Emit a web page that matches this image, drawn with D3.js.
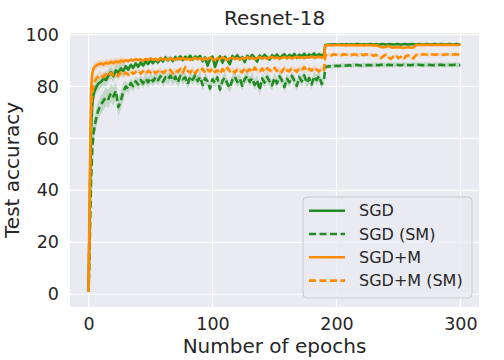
<!DOCTYPE html>
<html>
<head>
<meta charset="utf-8">
<script src="https://cdn.jsdelivr.net/npm/d3@7"></script>
<style>
  body { margin: 0; background: #fff; }
  svg { display: block; font-family: "DejaVu Sans", sans-serif; }
</style>
</head>
<body>
<svg id="chart" width="504" height="360"></svg>
<script>
// epochs at which accuracy was sampled
const epochs = [].concat(d3.range(0, 9), d3.range(10, 191, 2), [191], d3.range(192, 301, 2));

const accSGD = [
  1, 35, 63, 73, 77, 78.5, 79.5, 80.5, 81.2,
  81.8, 83.0, 82.5, 84.2, 85.5, 84.0, 86.2, 85.3, 87.0, 86.0,
  87.8, 86.5, 88.3, 87.2, 88.9, 87.6, 89.2, 88.1, 89.6, 88.7,
  90.0, 89.0, 90.4, 89.3, 90.8, 89.7, 91.2, 90.1, 91.0, 89.8,
  91.3, 90.5, 91.6, 90.2, 91.4, 90.7, 91.8, 90.4, 91.5, 90.9,
  91.7, 89.8, 91.2, 88.0, 90.6, 91.5, 87.5, 90.2, 91.6, 89.2,
  91.4, 90.3, 88.6, 91.7, 90.8, 92.0, 90.5, 91.3, 89.4, 91.8,
  90.7, 92.1, 91.0, 89.6, 91.9, 90.9, 92.2, 91.2, 90.4, 92.0,
  91.3, 92.3, 90.8, 91.7, 92.4, 91.0, 92.1, 91.5, 92.5, 91.2,
  92.2, 91.6, 92.6, 91.4, 92.3, 91.8, 92.7, 91.6, 92.4, 91.9,
  92.5,
  96.0,
  96.1, 96.2, 96.2, 96.3, 96.2, 96.2, 96.3, 96.2, 96.3, 96.2,
  96.3, 96.2, 96.3, 96.3, 96.2, 96.3, 96.2, 96.3, 96.3, 96.2,
  96.3, 96.2, 96.3, 96.3, 96.2, 96.3, 96.3, 96.2, 96.3, 96.3,
  96.2, 96.3, 96.3, 96.2, 96.3, 96.3, 96.2, 96.3, 96.3, 96.2,
  96.3, 96.3, 96.2, 96.3, 96.3, 96.2, 96.3, 96.3, 96.2, 96.3,
  96.3, 96.2, 96.3, 96.3, 96.2
];

const accSGDSM = [
  1, 22, 44, 56, 62, 65, 67.5, 69.5, 71,
  73.0, 74.5, 76.0, 75.2, 77.5, 76.2, 78.3, 72.0, 74.5, 78.0,
  80.0, 79.2, 81.3, 80.1, 82.0, 80.8, 82.5, 81.2, 83.0, 81.6,
  83.3, 82.0, 83.6, 82.4, 84.0, 81.8, 83.5, 82.7, 84.2, 82.3,
  83.8, 81.5, 84.1, 82.8, 83.5, 80.9, 83.9, 82.6, 84.3, 82.1,
  83.7, 80.5, 83.2, 82.0, 79.2, 82.8, 81.4, 83.5, 78.8, 82.2,
  83.4, 81.0, 79.5, 82.6, 83.8, 81.7, 83.0, 80.3, 82.9, 84.0,
  81.8, 83.2, 80.6, 82.5, 78.6, 83.1, 81.5, 83.7, 82.0, 80.4,
  83.3, 81.2, 83.9, 82.4, 79.8, 83.0, 81.6, 84.1, 82.2, 80.2,
  83.6, 82.0, 84.3, 81.4, 83.2, 80.8, 83.9, 82.5, 84.0, 81.0,
  82.8,
  87.5,
  87.6, 87.8, 87.7, 87.9, 88.0, 87.9, 88.1, 88.0, 88.1, 88.2,
  88.1, 88.2, 88.3, 88.2, 88.1, 88.3, 88.2, 88.3, 88.2, 88.4,
  88.3, 88.2, 88.4, 88.3, 88.2, 88.4, 88.3, 88.2, 88.4, 88.3,
  88.2, 88.4, 88.3, 88.3, 88.2, 88.4, 88.3, 88.4, 88.3, 88.2,
  88.4, 88.3, 88.3, 88.2, 88.4, 88.3, 88.4, 88.3, 88.2, 88.4,
  88.3, 88.3, 88.4, 88.2, 88.3
];

const accSGDM = [
  1, 46, 79, 85, 87, 87.6, 88, 88.3, 88.6,
  88.9, 88.4, 89.2, 88.8, 89.5, 89.0, 89.7, 89.3, 90.0, 89.5,
  90.2, 89.7, 90.4, 89.9, 90.6, 90.1, 90.5, 89.9, 90.6, 90.2,
  90.8, 90.3, 90.6, 90.1, 90.9, 90.4, 90.7, 90.2, 90.9, 90.5,
  90.3, 90.9, 90.5, 91.0, 90.4, 90.8, 90.2, 90.7, 91.0, 90.5,
  90.9, 90.3, 90.8, 90.5, 91.1, 90.6, 90.2, 90.9, 90.6, 91.2,
  90.7, 90.3, 90.9, 91.1, 90.6, 90.9, 90.4, 91.0, 90.7, 91.3,
  90.8, 91.1, 90.5, 91.0, 91.3, 90.8, 91.2, 90.7, 91.1, 91.4,
  90.9, 91.2, 90.6, 91.1, 91.4, 90.9, 91.3, 90.8, 91.2, 91.5,
  91.0, 91.3, 90.9, 91.4, 91.1, 91.6, 91.0, 91.3, 91.5, 91.2,
  91.4,
  95.8,
  95.9, 96.0, 95.8, 96.0, 95.9, 96.1, 95.9, 96.0, 95.8, 96.0,
  95.9, 96.0, 95.8, 95.9, 96.0, 95.8, 95.9, 96.0, 95.9, 95.8,
  95.9, 95.6, 95.2, 95.0, 95.3, 95.7, 95.1, 94.9, 95.2, 95.0,
  95.1, 94.8, 95.0, 95.2, 94.9, 95.0, 95.9, 96.0, 96.1, 96.0,
  96.1, 96.0, 96.1, 96.0, 96.0, 96.1, 96.0, 96.1, 96.0, 96.1,
  96.0, 96.1, 96.0, 96.0, 96.1
];

const accSGDMSM = [
  1, 40, 70, 77, 80.5, 82, 83, 83.5, 84,
  84.3, 83.6, 84.8, 84.0, 85.2, 84.4, 85.0, 84.1, 85.5, 84.6,
  85.3, 84.5, 85.8, 84.9, 85.6, 86.2, 85.0, 85.9, 84.8, 86.0,
  85.4, 86.3, 85.1, 85.8, 86.5, 85.2, 86.0, 85.5, 86.4, 85.0,
  86.2, 85.6, 86.8, 85.3, 87.5, 86.0, 85.4, 86.6, 85.1, 86.3,
  85.7, 86.9, 85.2, 86.4, 85.8, 87.0, 85.5, 86.2, 84.9, 86.7,
  85.6, 87.2, 85.9, 86.5, 85.3, 86.8, 86.0, 85.4, 87.1, 85.8,
  86.6, 85.5, 87.3, 86.1, 85.7, 86.9, 85.6, 87.0, 86.3, 85.8,
  87.2, 86.0, 86.7, 85.5, 87.4, 86.2, 85.9, 87.1, 86.4, 85.7,
  87.0, 86.3, 87.5, 85.9, 86.8, 86.1, 87.3, 86.5, 85.8, 87.0,
  86.4,
  92.0,
  92.1, 92.3, 92.0, 92.4, 92.2, 92.3, 92.1, 92.4, 92.2, 92.3,
  92.1, 92.4, 92.2, 92.0, 92.3, 92.1, 92.4, 92.2, 92.3, 91.8,
  92.2, 91.5, 90.9, 91.8, 92.3, 91.2, 90.6, 91.6, 92.1, 90.9,
  91.4, 90.4, 91.7, 92.0, 91.1, 90.8, 92.0, 92.3, 92.2, 92.4,
  92.3, 92.2, 92.4, 92.3, 92.2, 92.4, 92.3, 92.2, 92.3, 92.4,
  92.2, 92.3, 92.4, 92.3, 92.3
];

// spread of the shaded band: [warm-up (<30), before decay (<=190), after decay]
const spreadSGD = [2.5, 1.0, 0.3];
const spreadSGDSM = [3.5, 2.0, 0.9];
const spreadSGDM = [1.5, 0.6, 0.4];
const spreadSGDMSM = [1.5, 1.0, 0.7];

const seriesNames = ["SGD", "SGD (SM)", "SGD+M", "SGD+M (SM)"];
const xTicks = [0, 100, 200, 300];
const yTicks = [0, 20, 40, 60, 80, 100];

const series = [
  { name: seriesNames[0], values: accSGD, spread: spreadSGD, color: "#228B22", dashed: false },
  { name: seriesNames[1], values: accSGDSM, spread: spreadSGDSM, color: "#228B22", dashed: true },
  { name: seriesNames[2], values: accSGDM, spread: spreadSGDM, color: "#FF8C00", dashed: false },
  { name: seriesNames[3], values: accSGDMSM, spread: spreadSGDMSM, color: "#FF8C00", dashed: true }
];

const svg = d3.select("#chart");
const plot = { left: 70, right: 479, top: 33, bottom: 307 };
const textColor = "#262626";

const x = d3.scaleLinear().domain([-15, 315]).range([plot.left, plot.right]);
const y = d3.scaleLinear().domain([-4.9, 100.6]).range([plot.bottom, plot.top]);

// background
svg.append("rect")
  .attr("x", plot.left)
  .attr("y", plot.top)
  .attr("width", plot.right - plot.left)
  .attr("height", plot.bottom - plot.top)
  .attr("fill", "#EAEAF2");

// grid
svg.append("g")
  .selectAll("line")
  .data(xTicks)
  .join("line")
  .attr("x1", (d) => x(d)).attr("x2", (d) => x(d))
  .attr("y1", plot.top).attr("y2", plot.bottom)
  .attr("stroke", "#fff").attr("stroke-width", 1.2);

svg.append("g")
  .selectAll("line")
  .data(yTicks)
  .join("line")
  .attr("x1", plot.left).attr("x2", plot.right)
  .attr("y1", (d) => y(d)).attr("y2", (d) => y(d))
  .attr("stroke", "#fff").attr("stroke-width", 1.2);

// axes (tick labels only, seaborn style)
const xAxis = svg.append("g")
  .attr("transform", `translate(0,${plot.bottom})`)
  .call(d3.axisBottom(x).tickValues(xTicks).tickSize(0).tickPadding(11));
const yAxis = svg.append("g")
  .attr("transform", `translate(${plot.left},0)`)
  .call(d3.axisLeft(y).tickValues(yTicks).tickSize(0).tickPadding(11));

[xAxis, yAxis].forEach((ax) => {
  ax.select(".domain").remove();
  ax.selectAll("text")
    .style("font-family", "DejaVu Sans, sans-serif")
    .style("font-size", "17.5px")
    .attr("fill", textColor);
});

// bands and lines
const phase = (e) => (e < 30 ? 0 : e <= 190 ? 1 : 2);

svg.append("clipPath").attr("id", "plot-clip")
  .append("rect")
  .attr("x", plot.left).attr("y", plot.top)
  .attr("width", plot.right - plot.left).attr("height", plot.bottom - plot.top);

const area = d3.area()
  .x((d) => x(d.e))
  .y0((d) => y(d.v - d.s))
  .y1((d) => y(d.v + d.s));

const line = d3.line()
  .x((d) => x(d.e))
  .y((d) => y(d.v));

const marks = svg.append("g").attr("clip-path", "url(#plot-clip)");

series.forEach((s) => {
  const pts = epochs.map((e, i) => ({ e: e, v: s.values[i], s: s.spread[phase(e)] }));
  marks.append("path")
    .datum(pts)
    .attr("d", area)
    .attr("fill", s.color)
    .attr("fill-opacity", 0.2);
});

series.forEach((s) => {
  const pts = epochs.map((e, i) => ({ e: e, v: s.values[i] }));
  marks.append("path")
    .datum(pts)
    .attr("d", line)
    .attr("fill", "none")
    .attr("stroke", s.color)
    .attr("stroke-width", 2.6)
    .attr("stroke-linejoin", "round")
    .attr("stroke-dasharray", s.dashed ? "7,3.5" : null);
});

// title and labels
svg.append("text")
  .attr("x", (plot.left + plot.right) / 2)
  .attr("y", 25)
  .attr("text-anchor", "middle")
  .style("font-size", "20px")
  .attr("fill", textColor)
  .text("Resnet-18");

svg.append("text")
  .attr("x", (plot.left + plot.right) / 2)
  .attr("y", 353)
  .attr("text-anchor", "middle")
  .style("font-size", "20px")
  .attr("fill", textColor)
  .text("Number of epochs");

svg.append("text")
  .attr("transform", `translate(19,${(plot.top + plot.bottom) / 2}) rotate(-90)`)
  .attr("text-anchor", "middle")
  .style("font-size", "20px")
  .attr("fill", textColor)
  .text("Test accuracy");

// legend
const legend = svg.append("g").attr("transform", "translate(303,197)");
legend.append("rect")
  .attr("width", 169)
  .attr("height", 101)
  .attr("rx", 4)
  .attr("fill", "#EAEAF2")
  .attr("fill-opacity", 0.8)
  .attr("stroke", "#CCCCCC");

const rows = legend.selectAll("g.row")
  .data(series)
  .join("g")
  .attr("class", "row")
  .attr("transform", (d, i) => `translate(0,${13.7 + i * 23.3})`);

rows.append("line")
  .attr("x1", 6).attr("x2", 42)
  .attr("stroke", (d) => d.color)
  .attr("stroke-width", 2.6)
  .attr("stroke-dasharray", (d) => (d.dashed ? "7,3.5" : null));

rows.append("text")
  .attr("x", 56)
  .attr("dy", "0.35em")
  .style("font-size", "16px")
  .attr("fill", textColor)
  .text((d) => d.name);
</script>
</body>
</html>
